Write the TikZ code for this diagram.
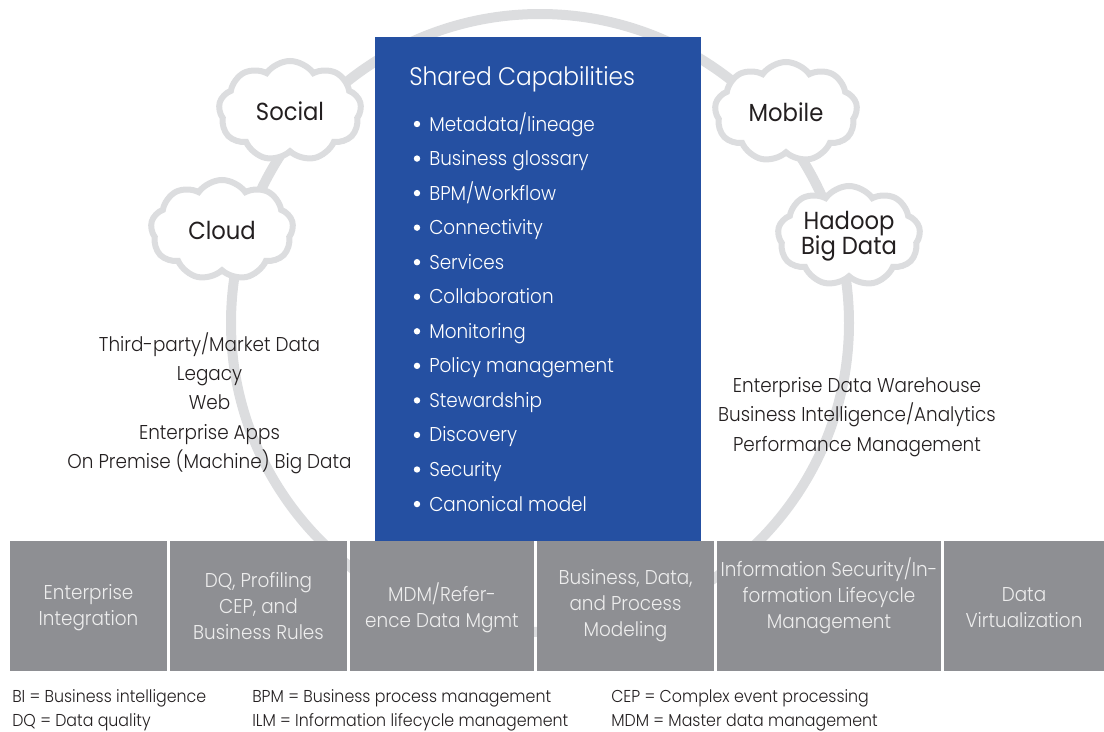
\documentclass[tikz,border=0pt]{standalone}
\usepackage{fontspec}
\setmainfont{Poppins}[UprightFont=* Light, BoldFont=*, FakeStretch=0.92]
\usetikzlibrary{shapes.symbols}
\definecolor{ringgray}{HTML}{DCDDDF}
\definecolor{capblue}{HTML}{2550A2}
\definecolor{boxgray}{HTML}{8E8F93}
\definecolor{boxtext}{HTML}{EDEDED}
\definecolor{ink}{HTML}{231F20}
\tikzset{
  ring/.style={draw=ringgray, line width=7.5pt},
  cloudbox/.style={cloud, cloud puffs=9, cloud puff arc=110, cloud ignores aspect,
    draw=ringgray, line width=4.5pt, fill=white, minimum width=107pt, minimum height=75pt,
    text=ink, align=center, inner sep=0pt, font=\fontsize{18.5}{19}\selectfont\bfseries},
  gbox/.style={fill=boxgray, minimum height=97.5pt, inner sep=0pt},
  boxlabel/.style={text=boxtext, align=center, inner sep=0pt, font=\fontsize{15}{19.5}\selectfont},
  sidetext/.style={text=ink, align=center, inner sep=0pt, font=\fontsize{15}{22}\selectfont},
  capitem/.style={text=white, anchor=base west, inner sep=0pt, font=\fontsize{15}{20}\selectfont},
  legend/.style={text=ink, anchor=base west, inner sep=0pt, font=\fontsize{12.9}{18}\selectfont},
}
\begin{document}
\begin{tikzpicture}[x=0.75pt, y=-0.75pt]
\useasboundingbox (0,0) rectangle (1104,732);
% ring
\draw[ring] (540,323) circle[radius=231.75pt];
% clouds
\node[cloudbox] (social) at (290,111) {Social};
\node[cloudbox] (cloudn) at (222,230) {Cloud};
\node[cloudbox] (mobile) at (786,112) {Mobile};
\node[cloudbox] (hadoop) at (849,236) {Hadoop\\Big Data};
% shared capabilities box
\node[fill=capblue, minimum width=244.5pt, minimum height=378pt, inner sep=0pt] (cap) at (538,289) {};
\node[text=white, anchor=base west, inner sep=0pt, font=\fontsize{19}{24}\selectfont] (title) at (409,85) {Shared Capabilities};
\foreach \t [count=\i from 0] in {Metadata/lineage, Business glossary, BPM/Workflow, Connectivity, Services, Collaboration, Monitoring, Policy management, Stewardship, Discovery, Security, Canonical model}{
  \fill[white] (417,{124+34.55*\i}) circle[radius=2.4pt];
  \node[capitem] (item\i) at (429,{131+34.55*\i}) {\t};
}
% side lists
\node[sidetext] (sources) at (209.5,403) {Third-party/Market Data\\Legacy\\Web\\Enterprise Apps\\On Premise (Machine) Big Data};
\node[sidetext] (targets) at (857,417) {Enterprise Data Warehouse\\Business Intelligence/Analytics\\Performance Management};
% bottom boxes
\node[gbox, minimum width=117.75pt] (b1) at (88.5,606) {};
\node[gbox, minimum width=132.75pt] (b2) at (258.5,606) {};
\node[gbox, minimum width=138pt] (b3) at (442,606) {};
\node[gbox, minimum width=132.75pt] (b4) at (625.5,606) {};
\node[gbox, minimum width=168pt] (b5) at (829,606) {};
\node[gbox, minimum width=120pt] (b6) at (1024,606) {};
\node[boxlabel] (t1) at ([yshift=-1.5pt]b1.center) {Enterprise\\Integration};
\node[boxlabel] (t2) at (b2.center) {DQ, Profiling\\CEP, and\\Business Rules};
\node[boxlabel] (t3) at ([yshift=-1.5pt]b3.center) {MDM/Refer-\\ence Data Mgmt};
\node[boxlabel] (t4) at (b4.center) {Business, Data,\\and Process\\Modeling};
\node[boxlabel] (t5) at ([yshift=7.5pt]b5.center) {Information Security/In-\\formation Lifecycle\\Management};
\node[boxlabel] (t6) at ([yshift=-1.5pt]b6.center) {Data\\Virtualization};
% legend
\node[legend] (l1) at (12,702) {BI = Business intelligence};
\node[legend] (l2) at (12,726) {DQ = Data quality};
\node[legend] (l3) at (252,702) {BPM = Business process management};
\node[legend] (l4) at (252,726) {ILM = Information lifecycle management};
\node[legend] (l5) at (611,702) {CEP = Complex event processing};
\node[legend] (l6) at (611,726) {MDM = Master data management};
\end{tikzpicture}
\end{document}
